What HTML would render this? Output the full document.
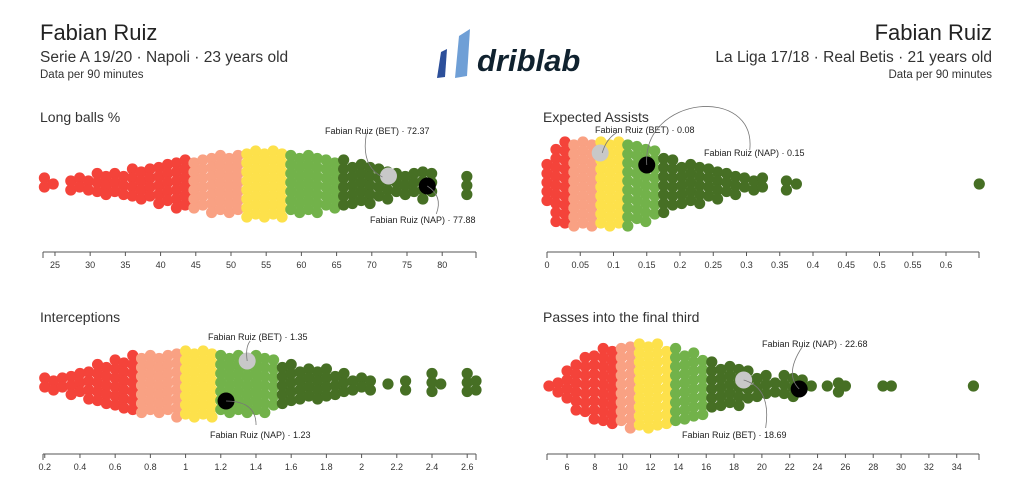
<!DOCTYPE html>
<html><head><meta charset="utf-8"><style>
html,body{margin:0;padding:0;background:#fff;}
body{width:1024px;height:498px;overflow:hidden;font-family:"Liberation Sans",sans-serif;}
svg text{font-family:"Liberation Sans",sans-serif;}
</style></head><body>
<svg id="chart" width="1024" height="498" viewBox="0 0 1024 498">
  <g>
    <text x="40" y="40" font-size="22" fill="#222">Fabian Ruiz</text>
    <text x="40" y="62" font-size="15.5" fill="#333">Serie A 19/20 · Napoli · 23 years old</text>
    <text x="40" y="78" font-size="11.5" fill="#333">Data per 90 minutes</text>
  </g>
  <g text-anchor="end">
    <text x="992" y="40" font-size="22" fill="#222">Fabian Ruiz</text>
    <text x="992" y="62" font-size="15.5" fill="#333">La Liga 17/18 · Real Betis · 21 years old</text>
    <text x="992" y="78" font-size="11.5" fill="#333">Data per 90 minutes</text>
  </g>
  <g>
    <polygon points="441,52 447,49 445,77 437,78" fill="#2c4f9a"/>
    <polygon points="459,36 470,29 467,76 455,78" fill="#6f9fd6"/>
    <text x="477" y="71" font-size="31" font-weight="bold" font-style="italic" fill="#10222f">driblab</text>
  </g>
  <g id="panels"></g>
</svg>
<script>
// ---- Long balls % ----
const lbBins = [23.5,24.75,26,27.25,28.5,29.75,31,32.25,33.5,34.75,36,37.25,38.5,39.75,41,42.25,43.5,44.75,46,47.25,48.5,49.75,51,52.25,53.5,54.75,56,57.25,58.5,59.75,61,62.25,63.5,64.75,66,67.25,68.5,69.75,71,72.25,73.5,74.75,76,77.25,78.5,83.5];
const lbCounts = [2,1,0,2,2,2,3,3,3,3,4,4,4,5,5,6,6,6,6,7,7,7,7,8,8,8,8,8,7,7,7,7,6,6,6,5,5,5,4,4,3,3,3,4,3,3];
const lbBreaks = [44.5,52,57.8,65];
const lbTicks = [25,30,35,40,45,50,55,60,65,70,75,80];
const lbPlayers = [72.37,77.88];
// ---- Expected Assists ----
const xaBins = [0,0.0135,0.027,0.0405,0.054,0.0675,0.081,0.0945,0.108,0.1215,0.135,0.1485,0.162,0.1755,0.189,0.2025,0.216,0.2295,0.243,0.2565,0.27,0.2835,0.297,0.311,0.324,0.36,0.375,0.65];
const xaCounts = [5,9,10,10,10,10,10,10,10,10,9,9,8,7,6,5,5,5,4,4,3,3,2,2,2,2,1,1];
const xaBreaks = [0.038,0.072,0.113,0.17];
const xaTicks = [0,0.05,0.1,0.15,0.2,0.25,0.3,0.35,0.4,0.45,0.5,0.55,0.6];
const xaPlayers = [0.08,0.15];
// ---- Interceptions ----
const inBins = [0.2,0.25,0.3,0.35,0.4,0.45,0.5,0.55,0.6,0.65,0.7,0.75,0.8,0.85,0.9,0.95,1.0,1.05,1.1,1.15,1.2,1.25,1.3,1.35,1.4,1.45,1.5,1.55,1.6,1.65,1.7,1.75,1.8,1.85,1.9,1.95,2.0,2.05,2.15,2.25,2.4,2.45,2.6,2.65];
const inCounts = [2,2,2,3,3,4,5,5,6,6,7,7,7,7,7,8,8,8,8,8,7,7,7,7,7,7,6,5,5,4,4,4,4,3,3,2,2,2,1,2,3,1,3,2];
const inBreaks = [0.71,0.96,1.2,1.52];
const inTicks = [0.2,0.4,0.6,0.8,1,1.2,1.4,1.6,1.8,2,2.2,2.4,2.6];
const inPlayers = [1.35,1.23];
// ---- Passes into the final third ----
const pfBins = [4.7,5.35,6.0,6.65,7.3,7.95,8.6,9.25,9.9,10.55,11.2,11.85,12.5,13.15,13.8,14.45,15.1,15.75,16.4,17.05,17.7,18.35,19.0,19.65,20.3,20.95,21.6,22.25,22.9,23.55,24.7,25.5,26.0,28.7,29.3,35.2];
const pfCounts = [1,2,4,6,7,8,9,9,9,10,10,10,10,9,9,8,8,7,6,5,5,5,4,3,3,2,3,3,2,1,1,2,1,1,1,1];
const pfBreaks = [9.3,11.2,13.3,16.3];
const pfTicks = [6,8,10,12,14,16,18,20,22,24,26,28,30,32,34];
const pfPlayers = [18.69,22.68];

const COLORS = ['#f4433a','#f9a183','#fde14b','#72b24a','#466f24'];
const NS = 'http://www.w3.org/2000/svg';
const root = document.getElementById('panels');
function mk(tag, attrs, parent){const e=document.createElementNS(NS,tag);for(const k in attrs)e.setAttribute(k,attrs[k]);parent.appendChild(e);return e;}

function panel(cfg){
  const g = mk('g',{},root);
  
  
  const sx = v => cfg.r0 + (v - cfg.d0) / (cfg.d1 - cfg.d0) * (cfg.r1 - cfg.r0);
  const t = mk('text',{x:cfg.tx,y:cfg.ty,'font-size':14,fill:'#333'},g);
  t.textContent = cfg.title;
  
  
  // axis
  const ax = mk('g',{},g);
  
  
  mk('line',{x1:cfg.r0,x2:cfg.r1,y1:cfg.ay,y2:cfg.ay,stroke:'#555','stroke-width':1},ax);
  mk('line',{x1:cfg.r0,x2:cfg.r0,y1:cfg.ay,y2:cfg.ay+6,stroke:'#555'},ax);
  mk('line',{x1:cfg.r1,x2:cfg.r1,y1:cfg.ay,y2:cfg.ay+6,stroke:'#555'},ax);
  cfg.ticks.forEach(v=>{
    const x = sx(v);
    mk('line',{x1:x,x2:x,y1:cfg.ay,y2:cfg.ay+4,stroke:'#555'},ax);
    const tl = mk('text',{x:x,y:cfg.ay+16,'font-size':9,'text-anchor':'middle',fill:'#333'},ax);
    tl.textContent = String(v);
    
    
  });
  // swarm
  const sw = mk('g',{},g);
  
  
  cfg.bins.forEach((b,i)=>{
    const n = cfg.counts[i];
    let ci = 0; while(ci<cfg.breaks.length && b>=cfg.breaks[ci]) ci++;
    const x = sx(b);
    for(let k=0;k<n;k++){
      const off = (k-(n-1)/2)*9 + ((i%2)?1.5:-1.5)*(n>1?1:0);
      const c = mk('circle',{cx:x,cy:cfg.cy+off,r:5.6,fill:COLORS[ci]},sw);
      
      
    }
  });
  // highlighted players
  cfg.hl.forEach((h,j)=>{
    const v = cfg.players[j];
    const x = sx(v), y = cfg.cy + h.dy;
    const c = mk('circle',{cx:x,cy:y,r:8.5,fill:h.fill},g);
    
    
    mk('path',{d:h.path(x,y),fill:'none',stroke:'#777','stroke-width':0.8},g);
    const lt = mk('text',{x:h.lx,y:h.ly,'font-size':9,fill:'#222'},g);
    lt.textContent = 'Fabian Ruiz (' + h.tag + ') · ' + v;
    
    
  });
}

panel({name:'long-balls-panel',title:'Long balls %',tx:40,ty:122,d0:23.3,d1:84.8,r0:43,r1:476,ay:252,cy:184,
  bins:lbBins,counts:lbCounts,breaks:lbBreaks,ticks:lbTicks,players:lbPlayers,
  hl:[{key:'bet',tag:'BET',fill:'#c8c8c8',dy:-8,lx:325,ly:134,path:(x,y)=>`M${x-6},${y+1} Q${x-28},${y-10} ${x-22},${y-43}`},
      {key:'nap',tag:'NAP',fill:'#000',dy:2,lx:370,ly:223,path:(x,y)=>`M${x},${y} Q${x+16},${y+10} ${x+9},${y+28}`}]});
panel({name:'expected-assists-panel',title:'Expected Assists',tx:543,ty:122,d0:0,d1:0.6496,r0:547,r1:979,ay:252,cy:184,
  bins:xaBins,counts:xaCounts,breaks:xaBreaks,ticks:xaTicks,players:xaPlayers,
  hl:[{key:'bet',tag:'BET',fill:'#c8c8c8',dy:-31,lx:595,ly:133,path:(x,y)=>`M${x+2},${y} Q${x+6},${y-14} ${x+16},${y-20}`},
      {key:'nap',tag:'NAP',fill:'#000',dy:-19,lx:704,ly:156,path:(x,y)=>`M${x},${y} C${x-5},${y-70} ${x+110},${y-80} ${x+103},${y-15}`}]});
panel({name:'interceptions-panel',title:'Interceptions',tx:40,ty:322,d0:0.19,d1:2.65,r0:43,r1:476,ay:454,cy:384,
  bins:inBins,counts:inCounts,breaks:inBreaks,ticks:inTicks,players:inPlayers,
  hl:[{key:'bet',tag:'BET',fill:'#c8c8c8',dy:-23,lx:208,ly:340,path:(x,y)=>`M${x},${y} Q${x-2},${y-14} ${x+3},${y-20}`},
      {key:'nap',tag:'NAP',fill:'#000',dy:17,lx:210,ly:438,path:(x,y)=>`M${x},${y} Q${x+30},${y} ${x+30},${y+24}`}]});
panel({name:'passes-final-third-panel',title:'Passes into the final third',tx:543,ty:322,d0:4.56,d1:35.6,r0:547,r1:979,ay:454,cy:386,
  bins:pfBins,counts:pfCounts,breaks:pfBreaks,ticks:pfTicks,players:pfPlayers,
  hl:[{key:'bet',tag:'BET',fill:'#c8c8c8',dy:-6,lx:682,ly:438,path:(x,y)=>`M${x},${y} Q${x+28},${y+8} ${x+22},${y+48}`},
      {key:'nap',tag:'NAP',fill:'#000',dy:3,lx:762,ly:347,path:(x,y)=>`M${x},${y} Q${x-15},${y-15} ${x+3},${y-42}`}]});
</script>
</body></html>
